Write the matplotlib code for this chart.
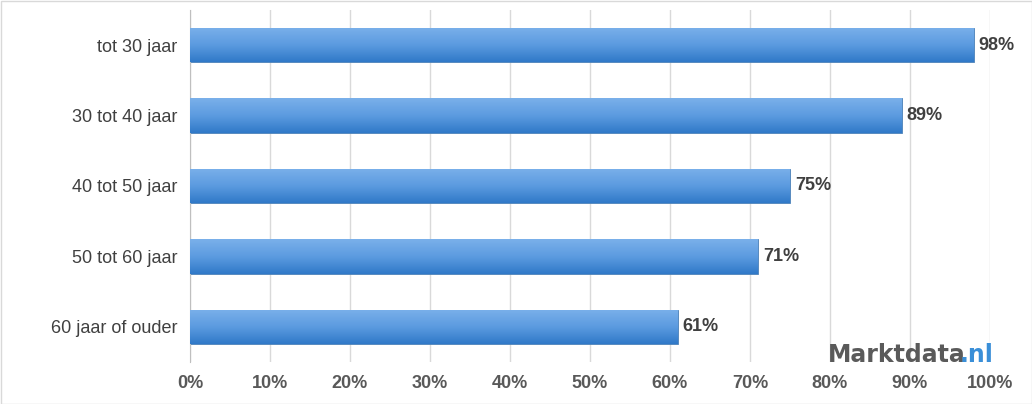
import matplotlib
matplotlib.use("Agg")
import matplotlib.pyplot as plt
import numpy as np
from matplotlib.colors import LinearSegmentedColormap

plt.rcParams['font.family'] = ['Liberation Sans', 'DejaVu Sans']

categories = ["tot 30 jaar", "30 tot 40 jaar", "40 tot 50 jaar", "50 tot 60 jaar", "60 jaar of ouder"]
values = [98, 89, 75, 71, 61]
xticks = list(range(0, 101, 10))

fig = plt.figure(figsize=(10.32, 4.04), dpi=100)
fig.patch.set_facecolor("white")
ax = fig.add_axes([190/1032, 42/404, 800/1032, 352/404])
y = np.arange(len(categories))[::-1]
cmap = LinearSegmentedColormap.from_list("g", ["#3079C8", "#5C9BE0", "#7AB0EA"])
bars = ax.barh(y, values, height=0.49, color="#5B9BD5", zorder=2)
grad = np.linspace(0, 1, 100).reshape(-1, 1)
for b in bars:
    x0, y0, w, h = b.get_x(), b.get_y(), b.get_width(), b.get_height()
    im = ax.imshow(grad, extent=[x0, x0 + w, y0, y0 + h], aspect="auto", cmap=cmap, origin="lower", zorder=3)
    im.set_clip_path(b)
    b.set_edgecolor("#4A80B8"); b.set_linewidth(0.6)
for yi, v in zip(y, values):
    ax.text(v + 0.6, yi, f"{v}%", va="center", ha="left", fontsize=13, fontweight="bold", color="#404040", zorder=4)
ax.set_xlim(0, 100)
ax.set_ylim(-0.5, 4.5)
ax.set_xticks(xticks)
ax.set_xticklabels([f"{t}%" for t in xticks], fontsize=13, fontweight="bold", color="#595959")
ax.set_yticks(y)
ax.set_yticklabels(categories, fontsize=13, color="#404040")
ax.tick_params(length=0, pad=9)
ax.xaxis.grid(True, color="#D9D9D9", linewidth=1, zorder=0)
for s in ax.spines.values():
    s.set_visible(False)
ax.spines["left"].set_visible(True); ax.spines["left"].set_color("#BFBFBF")
fig.text(828/1032, 1 - 355/404, "Marktdata", fontsize=17, fontweight="bold", color="#5A5A5A", va="center", ha="left",
         family=["DejaVu Sans"], zorder=5)
fig.text(960/1032, 1 - 355/404, ".nl", fontsize=17, fontweight="bold", color="#3A8FD8", va="center", ha="left",
         family=["DejaVu Sans"], zorder=5)
fig.add_artist(plt.Rectangle((0.5/1032, 0.5/404), 1 - 1/1032, 1 - 1/404, transform=fig.transFigure, fill=False, edgecolor="#D9D9D9", linewidth=1))
fig.savefig("out.png", dpi=100)
